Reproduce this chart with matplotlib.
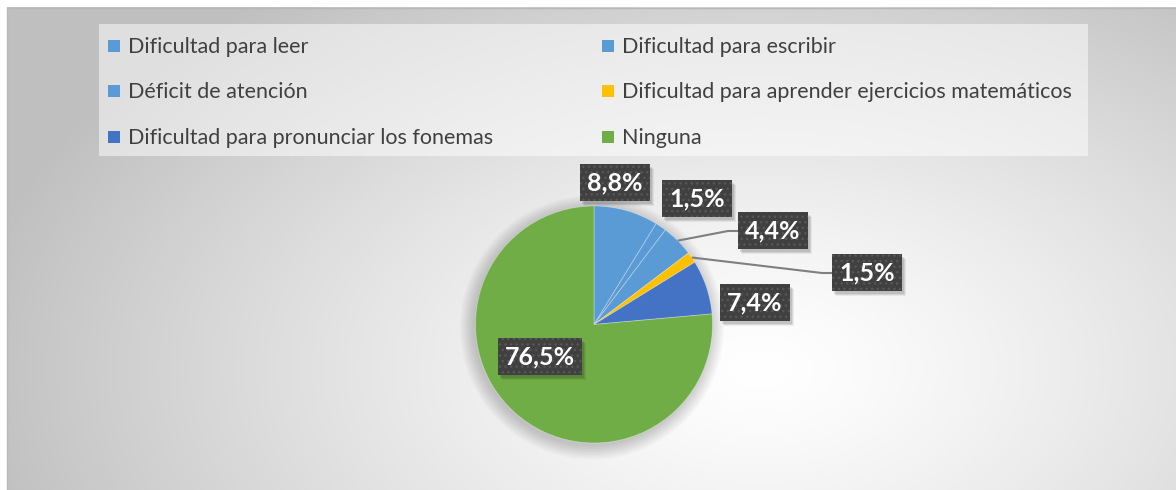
import numpy as np
import matplotlib
matplotlib.use('Agg')
import matplotlib.pyplot as plt
from matplotlib.patches import Rectangle, Circle

# ---------------- data ----------------
categories = ["Dificultad para leer", "Dificultad para escribir", "Déficit de atención",
              "Dificultad para aprender ejercicios matemáticos",
              "Dificultad para pronunciar los fonemas", "Ninguna"]
values = [8.8, 1.5, 4.4, 1.5, 7.4, 76.5]
value_labels = ["8,8%", "1,5%", "4,4%", "1,5%", "7,4%", "76,5%"]
colors = ["#5B9BD5", "#5B9BD5", "#5B9BD5", "#FFC000", "#4472C4", "#70AD47"]

# ---------------- layout (pixels, origin top-left) ----------------
W, H = 1176, 490
PIE_CX, PIE_CY, PIE_R = 594, 324.5, 118.5
label_pos = [(615, 182), (697, 198), (773, 230), (867, 272), (755, 302), (540, 356)]
leader_elbow = {2: (728, 231), 3: (822, 273)}
leader_end = {2: (738, 231), 3: (832, 273)}

def fy(y):
    return H - y

fig = plt.figure(figsize=(W / 100, H / 100), dpi=100)
fig.patch.set_facecolor('white')
ax = fig.add_axes([0, 0, 1, 1])
ax.axis('off')

# ---------------- background gradient ----------------
x0, x1, y0, y1 = 7, W, 8, H
xs = np.linspace(x0, x1, 600)
ys = np.linspace(y0, y1, 260)
XX, YY = np.meshgrid(xs, ys)
gx, gy = 760, 370
d = np.sqrt(((XX - gx) / 640) ** 2 + ((YY - gy) / 380) ** 2)
val = 1.0 - 0.25 * np.clip(d, 0, 1.25) ** 1.3 / (1.25 ** 1.3)
img = np.dstack([val, val, val])
ax.imshow(img, extent=(x0, x1, fy(y1), fy(y0)), origin='upper', aspect='auto',
          zorder=0, interpolation='bilinear')
ax.plot([x0, x0, x1], [0, fy(y0), fy(y0)], color='#b8b8b8', lw=1, zorder=1)

# ---------------- legend ----------------
ax.add_patch(Rectangle((99, fy(156)), 1088 - 99, 156 - 24, facecolor='white',
                       alpha=0.5, edgecolor='none', zorder=1))
col_marker_x = [108, 602]
col_text_x = [128, 622]
row_y = [46.5, 91.5, 137]
for i, (cat, col) in enumerate(zip(categories, colors)):
    r, c = divmod(i, 2)
    ax.add_patch(Rectangle((col_marker_x[c], fy(row_y[r]) - 6), 12, 12,
                           facecolor=col, edgecolor='none', zorder=3))
    ax.text(col_text_x[c], fy(row_y[r]) - 1, cat, fontsize=15.5, family='Lato',
            color='#404040', va='center', ha='left', zorder=3)

# ---------------- pie shadow ----------------
for k in range(10):
    ax.add_patch(Circle((PIE_CX - 2, fy(PIE_CY) - 3), PIE_R + 1.5 * k,
                        facecolor='#000000', alpha=0.018, edgecolor='none', zorder=2))

# ---------------- pie ----------------
wedges, _ = ax.pie(values, colors=colors, startangle=90, counterclock=False,
                   center=(PIE_CX, fy(PIE_CY)), radius=PIE_R,
                   wedgeprops=dict(edgecolor=(1, 1, 1, 0.35), linewidth=0.6))
for w in wedges:
    w.set_zorder(4)
ax.set_xlim(0, W)
ax.set_ylim(0, H)

# ---------------- leader lines ----------------
for i, w in enumerate(wedges):
    if i in leader_elbow:
        mid = np.deg2rad((w.theta1 + w.theta2) / 2)
        sx = PIE_CX + PIE_R * np.cos(mid)
        sy = fy(PIE_CY) + PIE_R * np.sin(mid)
        ex, ey = leader_elbow[i]
        tx, ty = leader_end[i]
        ax.plot([sx, ex, tx], [sy, fy(ey), fy(ty)], color='#7f7f7f', lw=1.5,
                zorder=5, solid_capstyle='butt')

# ---------------- data labels ----------------
texts = []
for (lx, ly), lab in zip(label_pos, value_labels):
    t = ax.text(lx, fy(ly) - 1, lab, fontsize=18, family='Lato', fontweight='bold',
                color='white', ha='center', va='center', zorder=7,
                bbox=dict(boxstyle='square,pad=0.28', fc='#404040', ec='#575757',
                          lw=0, hatch='...'))
    texts.append(t)

fig.canvas.draw()
inv = ax.transData.inverted()
for t in texts:
    bb = t.get_bbox_patch().get_window_extent()
    (bx0, by0), (bx1, by1) = inv.transform([[bb.x0, bb.y0], [bb.x1, bb.y1]])
    for k, a in enumerate([0.10, 0.08, 0.06]):
        ax.add_patch(Rectangle((bx0 + 2 + k, by0 - 3 - k), bx1 - bx0, by1 - by0,
                               facecolor='black', alpha=a, edgecolor='none', zorder=6))

fig.savefig('out.png', dpi=100, facecolor=fig.get_facecolor())
